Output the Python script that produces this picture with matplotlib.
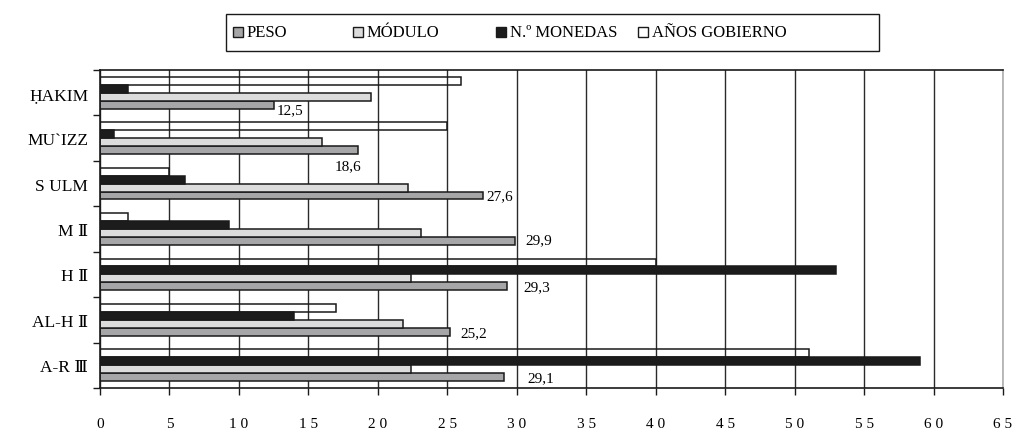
import matplotlib
matplotlib.use("Agg")
import matplotlib.pyplot as plt
from matplotlib.patches import Rectangle
import numpy as np

# ---- data (top-to-bottom order as displayed) ----
categories = ["ḤAKIM", "MU`IZZ", "S ULM", "M Ⅱ", "H Ⅱ", "AL-H Ⅱ", "A-R Ⅲ"]
peso = [12.5, 18.6, 27.6, 29.9, 29.3, 25.2, 29.1]
modulo = [19.5, 16.0, 22.2, 23.1, 22.4, 21.8, 22.4]
monedas = [2.0, 1.0, 6.1, 9.3, 53.0, 14.0, 59.0]
anos = [26.0, 25.0, 5.0, 2.0, 40.0, 17.0, 51.0]
series_names = ["PESO", "MÓDULO", "N.º MONEDAS", "AÑOS GOBIERNO"]
xticks = list(range(0, 70, 5))
xtick_labels = [" ".join(str(v)) for v in xticks]

# ---- style ----
FONT = ["Liberation Serif", "DejaVu Serif"]
plt.rcParams["font.family"] = FONT
colors = ["#a6a6a8", "#dcdcdc", "#1c1c1c", "none"]
legend_faces = ["#a6a6a8", "#dcdcdc", "#1c1c1c", "white"]
# label offsets in pixels (dx right, dy down) for PESO value labels
label_off = [(3, 5.5), (-23.5, 16), (3, 0), (9.5, -1), (16, 0), (10, 1), (23, 0)]

fig = plt.figure(figsize=(10.15, 4.31), dpi=100)
ax = fig.add_axes([100 / 1015, 42 / 431, 903 / 1015, 318 / 431])

n = len(categories)
ypos = np.arange(n)[::-1]  # first category at top
h = 0.175
vals = [peso, modulo, monedas, anos]
offsets = [-1.5 * h, -0.5 * h, 0.5 * h, 1.5 * h]
for v, c, off, name in zip(vals, colors, offsets, series_names):
    ax.barh(ypos + off, v, height=h, color=c, edgecolor="#1a1a1a",
            linewidth=1.1, label=name, zorder=2)

# PESO value labels
px2pt = 72 / 100
for y, v, (dx, dy) in zip(ypos, peso, label_off):
    ax.annotate(f"{v:.1f}".replace(".", ","), xy=(v, y - 1.5 * h),
                xytext=(dx * px2pt, -dy * px2pt), textcoords="offset points",
                ha="left", va="center", fontsize=11, family=FONT, zorder=3)

ax.set_xlim(0, 65)
ax.set_ylim(-0.5, n - 0.5)
ax.set_xticks(xticks)
ax.set_xticklabels(xtick_labels, fontsize=11)
ax.tick_params(axis="x", direction="out", length=5, width=1, color="#1a1a1a", pad=16)
ax.set_yticks(ypos)
ax.set_yticklabels(categories, fontsize=12.5)
ax.tick_params(axis="y", which="major", length=0, pad=8.5)
ax.set_yticks(np.arange(-0.5, n, 1.0), minor=True)
ax.tick_params(axis="y", which="minor", direction="out", length=5, width=1, color="#1a1a1a")

ax.grid(axis="x", color="#2a2a2a", linewidth=1.0, zorder=0)
ax.set_axisbelow(True)
for s in ["left", "bottom", "top"]:
    ax.spines[s].set_color("#1a1a1a")
    ax.spines[s].set_linewidth(1.2)
ax.spines["right"].set_color("#b0b0b0")
ax.spines["right"].set_linewidth(1.2)

# ---- manual legend box ----
W, H = 1015, 431
def fx(x):
    return x / W
def fy(y):
    return 1 - y / H
fig.patches.append(Rectangle((fx(226), fy(52)), 653 / W, 37 / H, transform=fig.transFigure,
                             facecolor="white", edgecolor="#1a1a1a", linewidth=1.0))
marker_x = [233, 353, 496, 638]
for mx, fc, name in zip(marker_x, legend_faces, series_names):
    fig.patches.append(Rectangle((fx(mx), fy(38)), 10 / W, 10 / H, transform=fig.transFigure,
                                 facecolor=fc, edgecolor="#1a1a1a", linewidth=1.0))
    fig.text(fx(mx + 14), fy(33), name, fontsize=12, va="center", ha="left", family=FONT)

fig.savefig("out.png", dpi=100)
